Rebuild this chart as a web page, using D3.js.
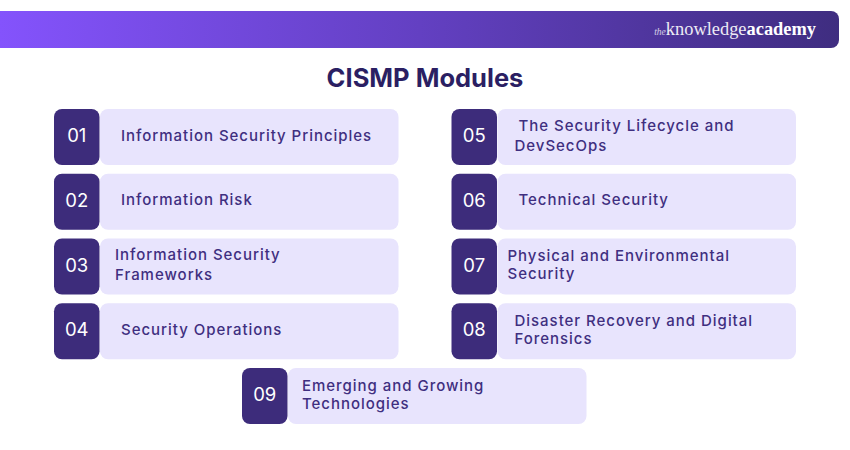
<!DOCTYPE html>
<html>
<head>
<meta charset="utf-8">
<script src="https://cdn.jsdelivr.net/npm/d3@7"></script>
<style>
  html, body { margin: 0; padding: 0; background: #fff; }
  svg { display: block; }
  text { font-family: Inter, "Noto Sans", sans-serif; }
</style>
</head>
<body>
<div id="chart"></div>
<script>
const chartTitle = "CISMP Modules";
const moduleNumbers = ["01", "02", "03", "04", "05", "06", "07", "08", "09"];
const moduleLines = [
  ["Information Security Principles"],
  ["Information Risk"],
  ["Information Security", "Frameworks"],
  ["Security Operations"],
  ["The Security Lifecycle and", "DevSecOps"],
  ["Technical Security"],
  ["Physical and Environmental", "Security"],
  ["Disaster Recovery and Digital", "Forensics"],
  ["Emerging and Growing", "Technologies"]
];
const moduleColumns = [0, 0, 0, 0, 1, 1, 1, 1, 2];
const moduleRows = [0, 1, 2, 3, 0, 1, 2, 3, 4];

// layout, not data: text inset inside each light box, per line
const firstInset = [21, 21, 15, 21, 21, 21, 10, 17, 14];
const secondInset = [0, 0, 15, 0, 17, 0, 10, 17, 14];
const lineGap = [0, 0, 20, 0, 20, 0, 18, 18, 18];

const width = 850, height = 450;
const svg = d3.select("#chart").append("svg").attr("width", width).attr("height", height);

const defs = svg.append("defs");
const grad = defs.append("linearGradient").attr("id", "bannerGrad");
grad.append("stop").attr("offset", "0%").attr("stop-color", "#8453fc");
grad.append("stop").attr("offset", "50%").attr("stop-color", "#6340c2");
grad.append("stop").attr("offset", "100%").attr("stop-color", "#3f2d80");

// banner, square on the left edge, rounded on the right
svg.append("path")
  .attr("d", "M0,11H831a8,8 0 0 1 8,8V40a8,8 0 0 1 -8,8H0Z")
  .attr("fill", "url(#bannerGrad)");

const logo = svg.append("text")
  .attr("x", 816).attr("y", 35)
  .attr("text-anchor", "end")
  .attr("fill", "#fff")
  .style("font-family", "'Liberation Serif', serif")
  .style("font-size", "18.4px");
logo.append("tspan").text("the").style("font-style", "italic").style("font-size", "9.5px").attr("opacity", 0.75);
logo.append("tspan").text("knowledge").attr("opacity", 0.9);
logo.append("tspan").text("academy").style("font-weight", "bold");

svg.append("text")
  .attr("x", 425).attr("y", 87)
  .attr("text-anchor", "middle")
  .attr("fill", "#2b1f63")
  .style("font-size", "25.5px")
  .style("font-weight", 700)
  .text(chartTitle);

const yRow = d3.scaleLinear().domain([0, 4]).range([109, 368]);
const xColumn = d3.scaleOrdinal().domain([0, 1, 2]).range([54, 451.5, 242]);
const numWidth = 45.5, boxWidth = 298.5, boxHeight = 56;

const item = svg.selectAll("g.module")
  .data(moduleNumbers.map((n, i) => i))
  .join("g")
  .attr("class", "module")
  .attr("transform", i => `translate(${xColumn(moduleColumns[i])},${yRow(moduleRows[i])})`);

item.append("rect")
  .attr("x", numWidth + 0.5)
  .attr("width", boxWidth)
  .attr("height", boxHeight)
  .attr("rx", 8)
  .attr("fill", "#e8e4fd");

item.append("rect")
  .attr("width", numWidth)
  .attr("height", boxHeight)
  .attr("rx", 8)
  .attr("fill", "#3d2c7b");

item.append("text")
  .attr("x", numWidth / 2)
  .attr("y", boxHeight / 2 + 5)
  .attr("text-anchor", "middle")
  .attr("fill", "#fff")
  .style("font-size", "18.5px")
  .text(i => moduleNumbers[i]);

item.each(function (i) {
  const lines = moduleLines[i];
  const g = d3.select(this);
  const gap = lineGap[i];
  const first = boxHeight / 2 + 3.5 - gap / 2;
  lines.forEach((line, k) => {
    g.append("text")
      .attr("x", numWidth + 0.5 + (k === 0 ? firstInset[i] : secondInset[i]))
      .attr("y", first + k * gap)
      .attr("fill", "#3f2f80")
      .style("font-size", "15px")
      .style("font-weight", 500)
      .style("letter-spacing", "0.97px")
      .text(line);
  });
});
</script>
</body>
</html>
